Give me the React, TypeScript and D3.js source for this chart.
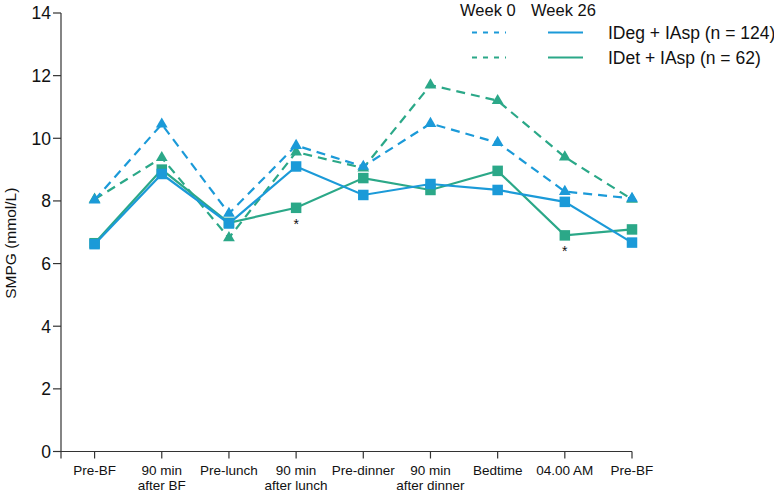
import * as d3 from 'd3'
import React from 'react'

// time points on the x axis (multi-line labels)
const categories: string[][] = [
    ['Pre-BF'],
    ['90 min', 'after BF'],
    ['Pre-lunch'],
    ['90 min', 'after lunch'],
    ['Pre-dinner'],
    ['90 min', 'after dinner'],
    ['Bedtime'],
    ['04.00 AM'],
    ['Pre-BF'],
];

// SMPG values (mmol/L)
const idegWeek0 = [8.03, 10.45, 7.6, 9.77, 9.1, 10.47, 9.86, 8.3, 8.08];
const idegWeek26 = [6.62, 8.86, 7.28, 9.1, 8.19, 8.54, 8.35, 7.97, 6.67];
const idetWeek0 = [8.05, 9.38, 6.82, 9.56, 9.05, 11.7, 11.2, 9.4, 8.05];
const idetWeek26 = [6.65, 9.0, 7.3, 7.78, 8.73, 8.35, 8.96, 6.9, 7.09];

// points marked with an asterisk (index into categories)
const significant = [3, 7];

const yTicks = [0, 2, 4, 6, 8, 10, 12, 14];

const BLUE = '#1b9ad8';
const GREEN = '#2ba888';
const FONT = '"Liberation Sans", Arial, sans-serif';

const App: React.FC = () => {
    const width = 774;
    const height = 492;

    const x = d3.scaleLinear().domain([-0.5, categories.length - 1]).range([61, 632]);
    const y = d3.scaleLinear().domain([0, 14]).range([451.5, 13]);

    const line = d3.line<number>()
        .x((_, i) => x(i))
        .y(d => y(d));

    const tri = d3.symbol().type(d3.symbolTriangle).size(60)();
    const sq = 10.5;

    const series = [
        { values: idetWeek0, color: GREEN, dashed: true },
        { values: idegWeek0, color: BLUE, dashed: true },
        { values: idetWeek26, color: GREEN, dashed: false },
        { values: idegWeek26, color: BLUE, dashed: false },
    ];

    return (
        <svg width={width} height={height} style={{ position: 'absolute', left: 0, top: 0 }} fontFamily={FONT}>
            <rect width={width} height={height} fill="#fff" />

            {/* y axis */}
            <g stroke="#333" strokeWidth={1.2}>
                <line x1={x(-0.5)} x2={x(-0.5)} y1={y(14)} y2={y(0) + 7} />
                {yTicks.map(t => (
                    <line key={t} x1={x(-0.5) - 8} x2={x(-0.5)} y1={y(t)} y2={y(t)} />
                ))}
            </g>
            {yTicks.map(t => (
                <text key={t} x={x(-0.5) - 10} y={y(t)} dy="0.36em" textAnchor="end" fontSize={17.5} fill="#111">
                    {t}
                </text>
            ))}
            <text transform={`translate(15.5, ${(y(0) + y(14)) / 2 + 11}) rotate(-90)`} textAnchor="middle" fontSize={15.5} fill="#111">
                SMPG (mmol/L)
            </text>

            {/* x axis */}
            <g stroke="#333" strokeWidth={1.2}>
                <line x1={x(-0.5)} x2={x(categories.length - 1)} y1={y(0)} y2={y(0)} />
                {categories.map((_, i) => (
                    <line key={i} x1={x(i)} x2={x(i)} y1={y(0)} y2={y(0) + 7} />
                ))}
            </g>
            {categories.map((c, i) => (
                <text key={i} x={x(i)} y={y(0) + 23.5} textAnchor="middle" fontSize={13.5} fill="#111">
                    {c.map((s, j) => (
                        <tspan key={j} x={x(i)} dy={j === 0 ? 0 : 15}>{s}</tspan>
                    ))}
                </text>
            ))}

            {/* lines */}
            {series.map((s, k) => (
                <g key={k}>
                    <path d={line(s.values) || ''} fill="none" stroke={s.color} strokeWidth={2.2}
                        strokeDasharray={s.dashed ? '9,6' : undefined} />
                    {s.values.map((v, i) =>
                        s.dashed ? (
                            <path key={i} d={tri || ''} transform={`translate(${x(i)},${y(v)})`} fill={s.color} />
                        ) : (
                            <rect key={i} x={x(i) - sq / 2} y={y(v) - sq / 2} width={sq} height={sq} fill={s.color} />
                        )
                    )}
                </g>
            ))}

            {/* significance */}
            {significant.map(i => (
                <text key={i} x={x(i)} y={y(Math.min(idegWeek26[i], idetWeek26[i])) + 21} textAnchor="middle" fontSize={14} fill="#111">
                    *
                </text>
            ))}

            {/* legend */}
            <g fill="#111">
                <text x={460} y={15.5} fontSize={16.5}>Week 0</text>
                <text x={531} y={15.5} fontSize={16.5}>Week 26</text>
                <line x1={472} x2={506} y1={32.5} y2={32.5} stroke={BLUE} strokeWidth={2} strokeDasharray="5,6" />
                <line x1={548} x2={583} y1={32.5} y2={32.5} stroke={BLUE} strokeWidth={2} />
                <text x={608} y={38.5} fontSize={17.5}>IDeg + IAsp (n = 124)</text>
                <line x1={472} x2={506} y1={57.5} y2={57.5} stroke={GREEN} strokeWidth={2} strokeDasharray="5,6" />
                <line x1={548} x2={583} y1={57.5} y2={57.5} stroke={GREEN} strokeWidth={2} />
                <text x={608} y={64} fontSize={17.5}>IDet + IAsp (n = 62)</text>
            </g>
        </svg>
    );
};

export default App;
